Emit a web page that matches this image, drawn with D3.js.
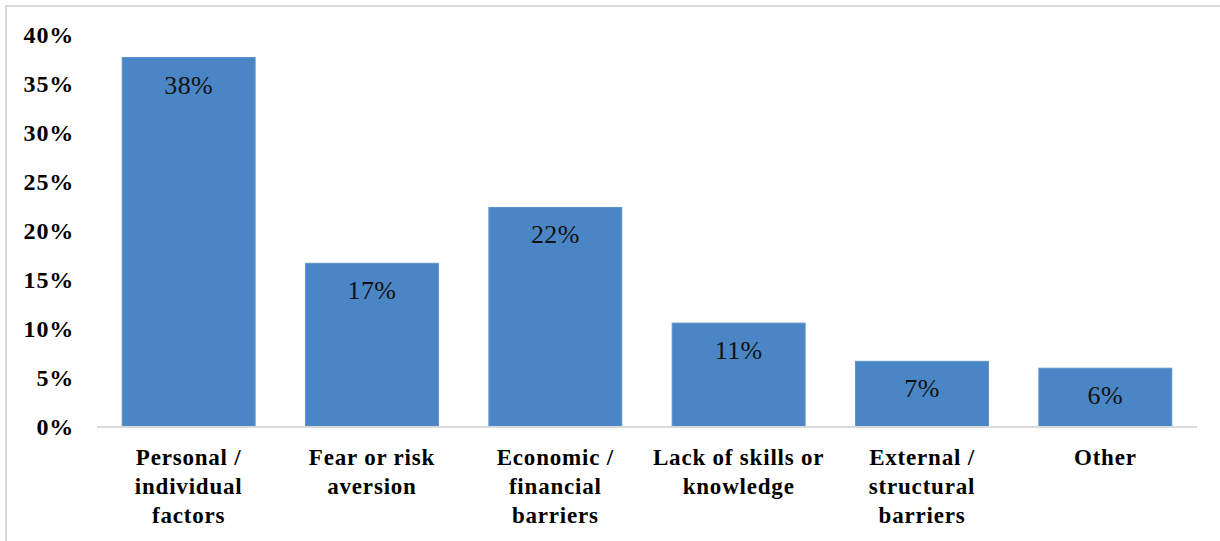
<!DOCTYPE html>
<html>
<head>
<meta charset="utf-8">
<script src="https://cdn.jsdelivr.net/npm/d3@7"></script>
<style>
  html, body { margin: 0; padding: 0; background: #fff; }
  svg { display: block; }
</style>
</head>
<body>
<script>
// Reasons given, share of responses
const categories = [
  "Personal /\nindividual\nfactors",
  "Fear or risk\naversion",
  "Economic /\nfinancial\nbarriers",
  "Lack of skills or\nknowledge",
  "External /\nstructural\nbarriers",
  "Other"
];
const shares = [0.377, 0.167, 0.224, 0.106, 0.067, 0.060];
const yTicks = [0, 0.05, 0.10, 0.15, 0.20, 0.25, 0.30, 0.35, 0.40];

const W = 1220, H = 541;
const margin = { left: 97, right: 23, top: 35, bottom: 114 };

const svg = d3.select("body").append("svg")
  .attr("width", W).attr("height", H);

// chart frame (top and left edges visible)
svg.append("path")
  .attr("d", `M6,${H} V6 H${W}`)
  .attr("fill", "none")
  .attr("stroke", "#d9d9d9")
  .attr("stroke-width", 2);

const x = d3.scaleBand()
  .domain(categories)
  .range([margin.left, W - margin.right])
  .paddingInner(0.275)
  .paddingOuter(0.1375);

const y = d3.scaleLinear()
  .domain([0, 0.40])
  .range([H - margin.bottom, margin.top]);

const fmt = d3.format(".0%");

// y axis labels
const yAxis = d3.axisLeft(y).tickValues(yTicks).tickFormat(fmt).tickSize(0).tickPadding(23);
const yg = svg.append("g")
  .attr("transform", `translate(${margin.left},0)`)
  .call(yAxis);
yg.select(".domain").remove();
yg.selectAll("text")
  .attr("font-family", "'Liberation Serif', serif")
  .attr("font-weight", "bold")
  .attr("font-size", 24)
  .attr("letter-spacing", 0.8)
  .attr("fill", "#000");

// bars
svg.append("g").selectAll("rect")
  .data(shares)
  .join("rect")
  .attr("x", (d, i) => x(categories[i]))
  .attr("y", d => y(d))
  .attr("width", x.bandwidth())
  .attr("height", d => y(0) - y(d))
  .attr("fill", "#4a86c5")
  .attr("stroke", "#5b93cc")
  .attr("stroke-width", 1);

// value labels inside bars
svg.append("g").selectAll("text")
  .data(shares)
  .join("text")
  .attr("x", (d, i) => x(categories[i]) + x.bandwidth() / 2)
  .attr("y", d => y(d) + 36)
  .attr("text-anchor", "middle")
  .attr("font-family", "'Liberation Serif', serif")
  .attr("font-size", 26)
  .attr("letter-spacing", 0.4)
  .attr("fill", "#111")
  .text(d => fmt(d));

// baseline
svg.append("line")
  .attr("x1", margin.left).attr("x2", W - margin.right)
  .attr("y1", y(0)).attr("y2", y(0))
  .attr("stroke", "#d9d9d9")
  .attr("stroke-width", 2);

// category labels
const xg = svg.append("g");
categories.forEach(c => {
  const t = xg.append("text")
    .attr("x", x(c) + x.bandwidth() / 2)
    .attr("y", y(0) + 38)
    .attr("text-anchor", "middle")
    .attr("font-family", "'Liberation Serif', serif")
    .attr("font-weight", "bold")
    .attr("font-size", 23)
    .attr("letter-spacing", 0.8)
    .attr("fill", "#000");
  c.split("\n").forEach((line, k) => {
    t.append("tspan")
      .attr("x", x(c) + x.bandwidth() / 2)
      .attr("dy", k === 0 ? 0 : 29)
      .text(line);
  });
});
</script>
</body>
</html>
